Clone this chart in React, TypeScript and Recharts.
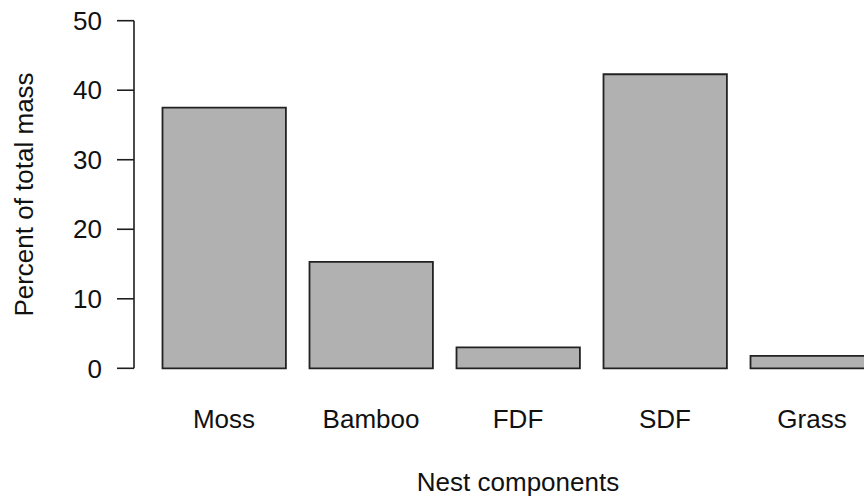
import React from 'react';
import { BarChart, Bar, XAxis, YAxis, Label } from 'recharts';

const categories: string[] = ['Moss', 'Bamboo', 'FDF', 'SDF', 'Grass'];
const percentValues: number[] = [37.5, 15.3, 3.0, 42.3, 1.8];
const yTicks: number[] = [0, 10, 20, 30, 40, 50];

const data = categories.map((c, i) => ({ name: c, value: percentValues[i] }));

const FONT = '"Liberation Sans", Arial, Helvetica, sans-serif';
const TEXT = '#111111';
const LINE = '#1e1e1e';

const XTick = (props: any) => {
  const { x, y, payload } = props;
  return (
    <text x={x} y={y} dy="0.71em" textAnchor="middle" fontFamily={FONT} fontSize={26} fill={TEXT}>
      {payload.value}
    </text>
  );
};

const YTick = (props: any) => {
  const { x, y, payload } = props;
  return (
    <text x={x} y={y} dy="0.355em" textAnchor="end" fontFamily={FONT} fontSize={26} fill={TEXT}>
      {payload.value}
    </text>
  );
};

export default function App() {
  return (
    <div
      style={{
        position: 'fixed',
        left: 0,
        top: 0,
        width: 864,
        height: 497,
        overflow: 'hidden',
        background: '#ffffff',
      }}
    >
      <BarChart
        width={910}
        height={497}
        data={data}
        margin={{ top: 20.7, right: 8, bottom: 68.7, left: 0 }}
      >
        <XAxis
          dataKey="name"
          type="category"
          height={60}
          axisLine={false}
          tickLine={false}
          tickSize={0}
          tickMargin={41}
          padding={{ left: 16.5, right: 16.5 }}
          tick={<XTick />}
          interval={0}
        >
          <Label
            content={(p: any) => {
              const vb = p.viewBox || { x: 134, y: 368.3, width: 768 };
              return (
                <text
                  x={vb.x + vb.width / 2}
                  y={vb.y + 122.7}
                  textAnchor="middle"
                  fontFamily={FONT}
                  fontSize={26}
                  fill={TEXT}
                >
                  Nest components
                </text>
              );
            }}
          />
        </XAxis>
        <YAxis
          type="number"
          domain={[0, 50]}
          ticks={yTicks}
          width={134}
          axisLine={{ stroke: LINE, strokeWidth: 1.6 }}
          tickLine={{ stroke: LINE, strokeWidth: 1.6 }}
          tickSize={17}
          tickMargin={15}
          tick={<YTick />}
          interval={0}
        >
          <Label
            content={(p: any) => {
              const vb = p.viewBox || { x: 0, y: 20.7, width: 134, height: 347.6 };
              const cx = 33;
              const cy = vb.y + vb.height / 2;
              return (
                <text
                  x={cx}
                  y={cy}
                  textAnchor="middle"
                  transform={`rotate(-90 ${cx} ${cy})`}
                  fontFamily={FONT}
                  fontSize={26}
                  fill={TEXT}
                >
                  Percent of total mass
                </text>
              );
            }}
          />
        </YAxis>
        <Bar
          dataKey="value"
          fill="#b0b1b0"
          stroke="#222222"
          strokeWidth={1.8}
          barSize={123.4}
          isAnimationActive={false}
        />
      </BarChart>
    </div>
  );
}
